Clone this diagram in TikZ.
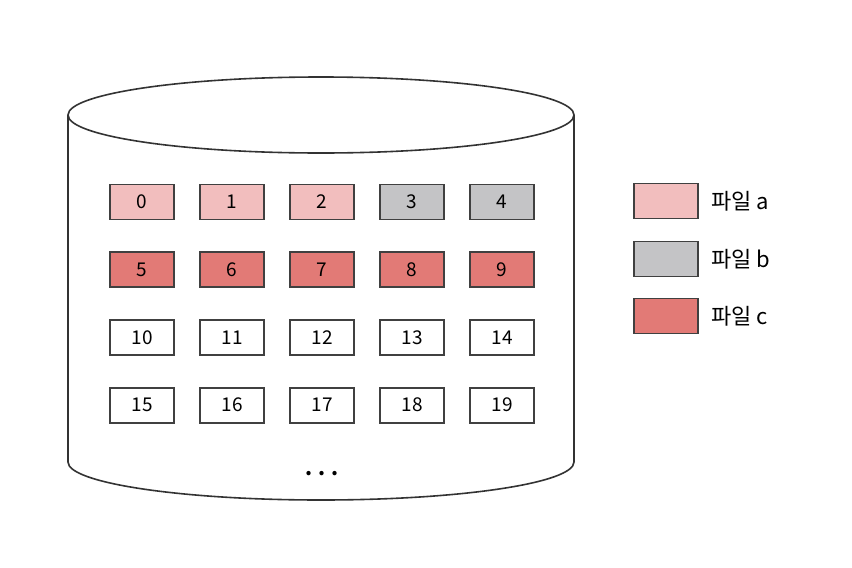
\documentclass[tikz,border=0pt]{standalone}
\usepackage{fontspec}
\setmainfont{Noto Sans CJK KR}
\begin{document}
\begin{tikzpicture}[x=1pt,y=-1pt,
  cell/.style={draw=black!75,line width=1.8pt,minimum width=64pt,minimum height=35pt,inner sep=0pt,font=\fontsize{19}{19}\selectfont},
  fa/.style={cell,fill=ca},
  fb/.style={cell,fill=cb},
  fc/.style={cell,fill=cc},
  fw/.style={cell,fill=white},
  leg/.style={anchor=west,font=\fontsize{22}{22}\selectfont}]
\definecolor{ca}{HTML}{F2BEBE}
\definecolor{cb}{HTML}{C4C4C6}
\definecolor{cc}{HTML}{E27A76}
\useasboundingbox (0,0) rectangle (852,568);
% cylinder
\draw[line width=1.6pt,black!80] (68,115) -- (68,462) arc[start angle=180,end angle=0,x radius=253,y radius=38] -- (574,115);
\draw[line width=1.6pt,black!80,fill=white] (321,115) ellipse[x radius=253,y radius=38];
% cells
\foreach \n/\s [count=\i from 0] in {0/fa,1/fa,2/fa,3/fb,4/fb,5/fc,6/fc,7/fc,8/fc,9/fc,10/fw,11/fw,12/fw,13/fw,14/fw,15/fw,16/fw,17/fw,18/fw,19/fw}{
  \pgfmathtruncatemacro{\r}{int(\i/5)}
  \pgfmathtruncatemacro{\c}{mod(\i,5)}
  \node[\s] (c\n) at ({142+90*\c},{202+67.7*\r}) {\n};
}
\node[font=\fontsize{20}{20}\selectfont\bfseries] (dots) at (322,474) {.\;.\;.};
% legend
\node[fa] (la) at (666,201) {};
\node[fb] (lb) at (666,259) {};
\node[fc] (lc) at (666,316) {};
\node[leg] (ta) at (708,201) {파일 a};
\node[leg] (tb) at (708,259) {파일 b};
\node[leg] (tc) at (708,316) {파일 c};
\end{tikzpicture}
\end{document}
